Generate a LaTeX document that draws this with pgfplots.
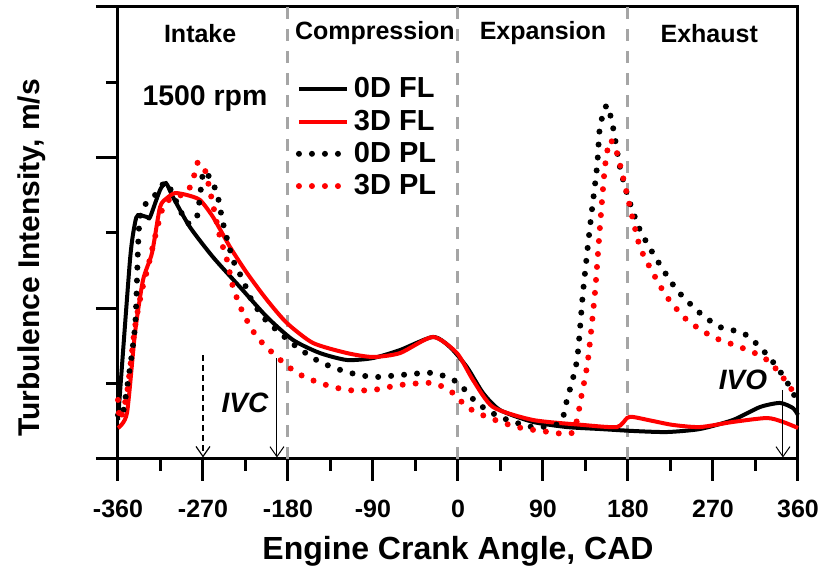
\documentclass[border=0pt]{standalone}
\usepackage{pgfplots}
\pgfplotsset{compat=1.18}
\usepackage{fontspec}
\setmainfont{Liberation Sans}
\usetikzlibrary{arrows.meta}
\definecolor{gline}{RGB}{165,165,165}
\begin{document}
\begin{tikzpicture}
\begin{axis}[
  at={(0,0)}, anchor=south west,
  scale only axis, width=340pt, height=226pt,
  xmin=-360, xmax=360, ymin=0, ymax=30,
  axis line style={line width=1.5pt},
  xtick={-360,-270,-180,-90,0,90,180,270,360},
  minor xtick={-315,-225,-135,-45,45,135,225,315},
  xticklabels={{-360},{-270},{-180},{-90},{0},{90},{180},{270},{360}},
  ytick={0,10,20,30}, minor ytick={5,15,25}, yticklabels={},
  xtick pos=bottom, ytick pos=left,
  tick align=outside, major tick length=11pt, minor tick length=6pt,
  every tick/.style={black, line width=1.5pt},
  tick label style={font=\bfseries\fontsize{12.5}{14}\selectfont},
  xticklabel style={yshift=-6pt},
  xlabel={Engine Crank Angle, CAD},
  xlabel style={at={(axis description cs:0.5,-0.2035)}, anchor=center, font=\bfseries\fontsize{16}{18}\selectfont},
  ylabel={Turbulence Intensity, m/s},
  ylabel style={at={(axis description cs:-0.127,0.445)}, anchor=center, font=\bfseries\fontsize{15}{17}\selectfont},
  legend style={at={(axis cs:-172,25.6)}, anchor=north west, draw=none, fill=none,
    font=\bfseries\fontsize{14.5}{16}\selectfont, row sep=0.5pt, inner sep=0pt},
  legend cell align=left,
  legend image code/.code={\draw[#1] (0pt,0pt) -- (24pt,0pt);},
  clip=false,
]
% phase separators
\draw[gline, line width=1.5pt, dash pattern=on 6pt off 5pt] (axis cs:-180,0) -- (axis cs:-180,30);
\draw[gline, line width=1.5pt, dash pattern=on 6pt off 5pt] (axis cs:0,0) -- (axis cs:0,30);
\draw[gline, line width=1.5pt, dash pattern=on 6pt off 5pt] (axis cs:180,0) -- (axis cs:180,30);

% 0D FL
\addplot[black, line width=2pt, smooth, tension=0.4] coordinates {
(-360,2.59) (-347.3,13.2) (-342,15.66) (-338.8,16.19) (-329.3,16.06) (-326,16.06)
(-315.5,17.85) (-309.2,18.31) (-301.8,17.39) (-283.8,15.39) (-259.4,13.40) (-230.8,11.41)
(-202.2,9.42) (-174.7,7.90) (-146.1,7.03) (-117.5,6.57) (-90,6.70) (-61.4,7.23) (-26.5,8.10)
(-8.5,7.43) (9.5,6.10) (26.5,4.38) (44.5,3.25) (79.4,2.46) (115.4,2.12) (150.3,1.99)
(185.3,1.86) (221.3,1.79) (256.2,1.99) (291.2,2.59) (319.8,3.45) (341,3.72) (354.7,3.38) (360,2.92)};
\addlegendentry{0D FL}
% 3D FL
\addplot[red, line width=2pt, smooth, tension=0.4] coordinates {
(-360,2.06) (-350.5,3.05) (-342,8.36) (-333.5,11.88) (-324,13.67) (-315.5,16.72) (-308.1,17.32)
(-299.7,17.65) (-287,17.52) (-273.2,17.19) (-259.4,16.06) (-241.4,14.07) (-223.4,12.34)
(-202.2,10.55) (-181.1,9.02) (-153.5,7.70) (-117.5,7.03) (-90,6.77) (-61.4,7.03) (-26.5,8.10)
(-1.1,7.03) (15.9,5.24) (37,3.45) (79.4,2.59) (132.3,2.26) (168.3,2.12) (179,2.72) (185.3,2.79)
(206.5,2.52) (227.7,2.26) (256.2,2.12) (291.2,2.46) (327.2,2.72) (344.1,2.46) (360,2.06)};
\addlegendentry{3D FL}
% 0D PL
\addplot[black, line width=3pt, line cap=round, dash pattern=on 0pt off 6.5pt, smooth, tension=0.4] coordinates {
(-360,2.92) (-354.7,3.05) (-342,8.76) (-336.7,16.06) (-318.7,17.65) (-309.2,18.38) (-297.5,16.99)
(-287,15.66) (-276.4,16.06) (-270,18.98) (-264.7,18.85) (-255.2,17.65) (-248.8,15.66) (-238.2,13.21)
(-227.6,11.88) (-220.2,10.75) (-206.5,9.42) (-188.5,8.36) (-170.5,7.43) (-146.1,6.44) (-117.5,5.77)
(-90,5.44) (-61.4,5.57) (-26.5,5.71) (-1.1,5.11) (20.1,3.72) (44.5,2.79) (79.4,2.12) (108,2.39)
(115.4,3.92) (126,6.57) (132.3,11.02) (139.7,15.39) (147.2,19.38) (150.3,22.03) (157.7,23.49)
(164.1,22.03) (171.5,19.38) (180,17.39) (192.7,15.20) (210.7,13.21) (231.9,11.21) (256.2,9.69)
(277.4,8.76) (301.8,8.36) (319.8,7.43) (337.8,6.10) (351.5,4.78) (360,3.72)};
\addlegendentry{0D PL}
% 3D PL
\addplot[red, line width=3pt, line cap=round, dash pattern=on 0pt off 6.5pt, smooth, tension=0.4] coordinates {
(-360,3.92) (-357.9,2.59) (-350.5,4.38) (-342,8.76) (-334.6,11.21) (-328.2,12.74) (-320.8,14.73)
(-312.3,16.72) (-301.8,17.39) (-287,17.65) (-278.5,18.98) (-275.3,19.71) (-267.9,19.18) (-260.5,17.19)
(-252,14.73) (-244.6,13.21) (-238.2,11.41) (-227.6,9.69) (-212.8,8.10) (-191.6,6.77) (-170.5,5.71)
(-146.1,5.04) (-117.5,4.58) (-90,4.58) (-61.4,4.91) (-26.5,5.04) (-5.3,4.38) (9.5,3.45) (30.7,2.79)
(62.5,2.12) (97.4,1.79) (121.8,1.79) (131.3,4.38) (137.6,6.57) (145,11.02) (150.3,15.39) (155.6,19.38)
(160.9,21.17) (168.3,20.31) (174.7,18.71) (182.1,16.72) (192.7,14.07) (206.5,12.34) (221.3,10.75)
(242.5,9.22) (270,8.10) (298.6,7.43) (323,6.77) (337.8,5.91) (351.5,4.78) (360,3.92)};
\addlegendentry{3D PL}

% annotations
\draw[black, line width=0.6pt, dash pattern=on 3pt off 2pt, -{Straight Barb[length=5pt,width=7pt]}] (axis cs:-270,6.9) -- (axis cs:-270,0.1);
\draw[black, line width=0.5pt, -{Straight Barb[length=5pt,width=7pt]}] (axis cs:-191.7,6.7) -- (axis cs:-191.7,0.1);
\draw[black, line width=0.5pt, -{Straight Barb[length=5pt,width=7pt]}] (axis cs:344.1,4.58) -- (axis cs:344.1,0.1);
\node[font=\bfseries\itshape\fontsize{14}{16}\selectfont] at (axis cs:-225.5,3.7) {IVC};
\node[font=\bfseries\itshape\fontsize{14}{16}\selectfont] at (axis cs:301.8,5.24) {IVO};
\node[font=\bfseries\fontsize{14.2}{16}\selectfont] at (axis cs:-267.9,23.95) {1500 rpm};
\node[font=\bfseries\fontsize{12.5}{14}\selectfont] at (axis cs:-273,28.27) {Intake};
\node[font=\bfseries\fontsize{12.5}{14}\selectfont] at (axis cs:-88,28.27) {Compression};
\node[font=\bfseries\fontsize{12.5}{14}\selectfont] at (axis cs:90,28.27) {Expansion};
\node[font=\bfseries\fontsize{12.5}{14}\selectfont] at (axis cs:266,28.27) {Exhaust};
\end{axis}
\pgfresetboundingbox
\path[use as bounding box] (-59pt,-54pt) rectangle (351.5pt,229.5pt);
\end{tikzpicture}
\end{document}
